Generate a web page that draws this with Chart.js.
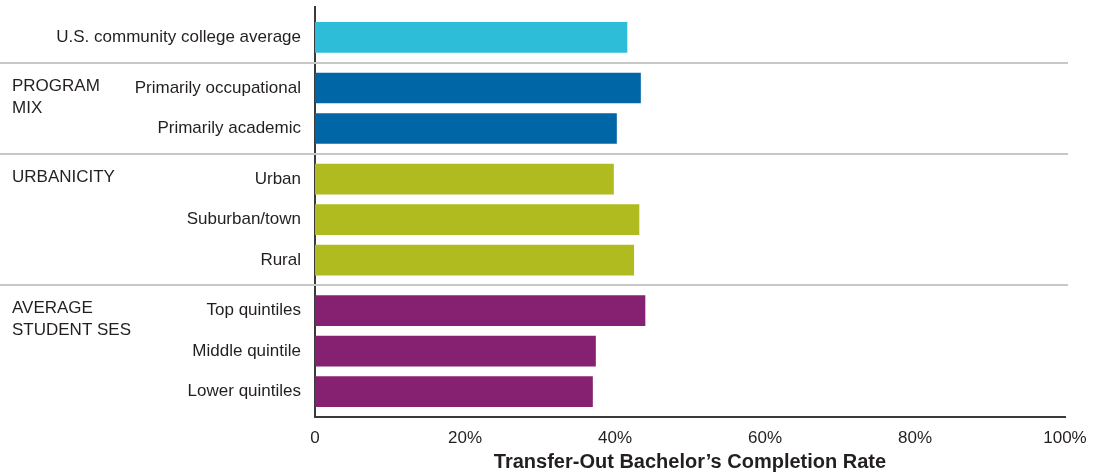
<!DOCTYPE html>
<html lang="en">
  <head>
    <meta charset="UTF-8" />
    <script src="https://cdn.jsdelivr.net/npm/chart.js"></script>
    <title>Transfer-Out Bachelor's Completion Rate</title>
    <style>
      html,
      body {
        margin: 0;
        padding: 0;
        background: #fff;
      }
      .container {
        width: 1103px;
        height: 475px;
      }
    </style>
  </head>
  <body>
    <div class="container">
      <canvas id="myChart"></canvas>
    </div>
  </body>
</html>
<script>
  // data
  const categories = [
    "U.S. community college average",
    "Primarily occupational",
    "Primarily academic",
    "Urban",
    "Suburban/town",
    "Rural",
    "Top quintiles",
    "Middle quintile",
    "Lower quintiles",
  ];
  const categoryGroup = [0, 1, 1, 2, 2, 2, 3, 3, 3];
  const rates = [41.6, 43.4, 40.2, 39.8, 43.2, 42.5, 44.0, 37.4, 37.0];
  const groupNames = [[], ["PROGRAM", "MIX"], ["URBANICITY"], ["AVERAGE", "STUDENT SES"]];
  const groupColors = ["#2dbdd9", "#0066a6", "#b0bb20", "#862171"];
  const xTicks = [0, 20, 40, 60, 80, 100];
  const axisTitle = "Transfer-Out Bachelor\u2019s Completion Rate";

  // spread the rows on a fine category scale so groups get a wider gap
  const LEAD = 6, WITHIN = 8, ACROSS = 10, TAIL = 5;
  const labels = [];
  const values = [];
  const colors = [];
  const rowSlot = [];
  function pad(n) {
    for (let i = 0; i < n; i++) {
      labels.push("");
      values.push(null);
      colors.push("transparent");
    }
  }
  pad(LEAD);
  categories.forEach((cat, i) => {
    if (i > 0) pad((categoryGroup[i] === categoryGroup[i - 1] ? WITHIN : ACROSS) - 1);
    rowSlot.push(labels.length);
    labels.push(cat);
    values.push(rates[i]);
    colors.push(groupColors[categoryGroup[i]]);
  });
  pad(TAIL);

  const textColor = "#231f20";
  const font = "Liberation Sans, Arial, Helvetica, sans-serif";

  const groupPlugin = {
    id: "groups",
    beforeDatasetsDraw(chart) {
      const ctx = chart.ctx;
      const y = chart.scales.y;
      ctx.save();
      ctx.strokeStyle = "#c8c8c8";
      ctx.lineWidth = 2;
      for (let i = 1; i < categories.length; i++) {
        if (categoryGroup[i] === categoryGroup[i - 1]) continue;
        const py = Math.round((y.getPixelForValue(rowSlot[i - 1]) + y.getPixelForValue(rowSlot[i])) / 2);
        ctx.beginPath();
        ctx.moveTo(0, py);
        ctx.lineTo(chart.chartArea.right + 3, py);
        ctx.stroke();
      }
      ctx.restore();
    },
    afterDraw(chart) {
      const ctx = chart.ctx;
      const y = chart.scales.y;
      ctx.save();
      ctx.fillStyle = textColor;
      ctx.font = "17px " + font;
      ctx.textAlign = "left";
      ctx.textBaseline = "middle";
      groupNames.forEach((lines, g) => {
        const first = categoryGroup.indexOf(g);
        const py = y.getPixelForValue(rowSlot[first]) - 2;
        lines.forEach((line, k) => ctx.fillText(line, 12, py + k * 22));
      });
      ctx.restore();
    },
  };

  const ctx = document.getElementById("myChart").getContext("2d");
  const myChart = new Chart(ctx, {
    type: "bar",
    data: {
      labels: labels,
      datasets: [
        {
          data: values,
          backgroundColor: colors,
          barThickness: 30,
        },
      ],
    },
    options: {
      indexAxis: "y",
      responsive: true,
      maintainAspectRatio: false,
      animation: false,
      layout: { padding: { top: 7, right: 38, bottom: 0, left: 0 } },
      plugins: {
        legend: { display: false },
        tooltip: { enabled: false },
      },
      scales: {
        y: {
          type: "category",
          offset: false,
          grid: { display: false, drawTicks: false },
          border: { display: true, color: "#3a3a3a", width: 2 },
          ticks: {
            autoSkip: false,
            padding: 14,
            color: textColor,
            font: { family: font, size: 17 },
          },
          afterFit(scale) {
            scale.width = 315;
            scale.paddingTop = 0;
            scale.paddingBottom = 0;
          },
        },
        x: {
          min: 0,
          max: 100,
          afterBuildTicks(scale) {
            scale.ticks = xTicks.map((v) => ({ value: v }));
          },
          grid: { display: false, drawTicks: false },
          border: { display: true, color: "#3a3a3a", width: 2 },
          ticks: {
            padding: 11,
            color: textColor,
            font: { family: font, size: 17 },
            maxRotation: 0,
            callback: (v) => (v === 0 ? "0" : v + "%"),
          },
          title: {
            display: true,
            text: axisTitle,
            color: textColor,
            font: { family: "Liberation Sans Narrow, Arial Narrow, " + font, size: 20, weight: "bold" },
            padding: { top: 0, bottom: 1 },
          },
          afterFit(scale) {
            scale.height = 58;
          },
        },
      },
    },
    plugins: [groupPlugin],
  });
</script>
